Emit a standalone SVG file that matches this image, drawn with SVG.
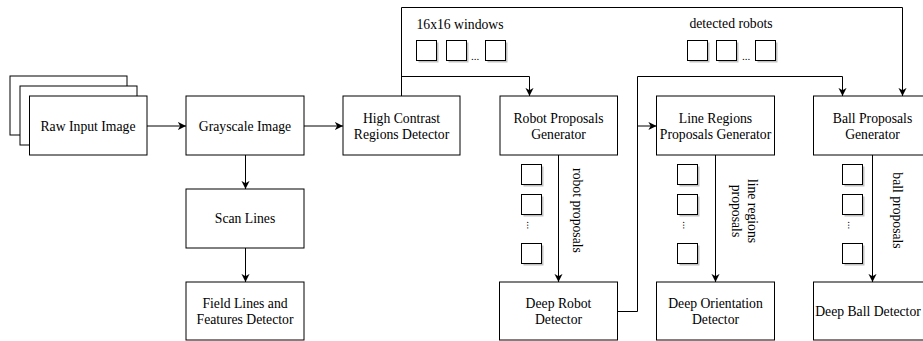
<svg xmlns="http://www.w3.org/2000/svg" width="923" height="341" viewBox="0 0 923 341">
<defs>
<style>
.box{fill:#fff;stroke:#000;stroke-width:1}
.t{font-family:"Liberation Serif","Times New Roman",serif;font-size:13.7px;fill:#000;text-anchor:middle}
.c{fill:none;stroke:#000;stroke-width:1}
.sq{fill:#fff;stroke:#000;stroke-width:1}
.sh{fill:#999;stroke:none;opacity:0.6}
.dots{font-family:"Liberation Serif",serif;font-size:11px;fill:#000;text-anchor:middle}
</style>
<marker id="arr" viewBox="0 0 10 10" refX="9" refY="5" markerWidth="9" markerHeight="9" markerUnits="userSpaceOnUse" orient="auto">
<path d="M0,0.5 L9,5 L0,9.5 L2.5,5 z" fill="#000"/>
</marker>
<g id="sqv">
<rect class="sh" x="2" y="2" width="20" height="20"/>
<rect class="sq" x="0" y="0" width="20" height="20"/>
</g>
</defs>

<g id="connectors">
<path class="c" d="M147 126 H186" marker-end="url(#arr)"/>
<path class="c" d="M304 126 H343" marker-end="url(#arr)"/>
<path class="c" d="M245.5 155 V189" marker-end="url(#arr)"/>
<path class="c" d="M245.5 248 V282" marker-end="url(#arr)"/>
<path class="c" d="M401.5 96 V7.5 H902.5 V96" marker-end="url(#arr)"/>
<path class="c" d="M401.5 76.5 H529.5 V96" marker-end="url(#arr)"/>
<path class="c" d="M558.5 155 V282" marker-end="url(#arr)"/>
<path class="c" d="M715.5 155 V282" marker-end="url(#arr)"/>
<path class="c" d="M872.5 155 V282" marker-end="url(#arr)"/>
<path class="c" d="M617.5 311.5 H637.5 V76.5 H842.5 V96" marker-end="url(#arr)"/>
<path class="c" d="M637.5 126 H656.5" marker-end="url(#arr)"/>
</g>

<g id="raw-input-image">
<rect class="box" x="10" y="76" width="117" height="59"/>
<rect class="box" x="20" y="86" width="117" height="59"/>
<rect class="box" x="29.5" y="96" width="117.5" height="59"/>
<text class="t" x="88" y="130.5">Raw Input Image</text>
</g>

<g id="grayscale-image">
<rect class="box" x="186" y="96" width="118" height="59"/>
<text class="t" x="245" y="130.5">Grayscale Image</text>
</g>

<g id="high-contrast">
<rect class="box" x="343" y="96" width="117" height="59"/>
<text class="t" x="401.5" y="122.5">High Contrast</text>
<text class="t" x="401.5" y="138.5">Regions Detector</text>
</g>

<g id="robot-proposals">
<rect class="box" x="500" y="96" width="117.5" height="59"/>
<text class="t" x="558.5" y="122.5">Robot Proposals</text>
<text class="t" x="558.5" y="138.5">Generator</text>
</g>

<g id="line-regions">
<rect class="box" x="656.5" y="96" width="118" height="59"/>
<text class="t" x="715.5" y="122.5">Line Regions</text>
<text class="t" x="715.5" y="138.5">Proposals Generator</text>
</g>

<g id="ball-proposals">
<rect class="box" x="813.5" y="96" width="118" height="59"/>
<text class="t" x="872.5" y="122.5">Ball Proposals</text>
<text class="t" x="872.5" y="138.5">Generator</text>
</g>

<g id="scan-lines">
<rect class="box" x="186" y="189" width="118" height="59"/>
<text class="t" x="245" y="223">Scan Lines</text>
</g>

<g id="field-lines">
<rect class="box" x="186" y="282" width="118" height="58"/>
<text class="t" x="245" y="307.5">Field Lines and</text>
<text class="t" x="245" y="323.5">Features Detector</text>
</g>

<g id="deep-robot">
<rect class="box" x="499.5" y="282" width="118" height="58"/>
<text class="t" x="558.5" y="307.5">Deep Robot</text>
<text class="t" x="558.5" y="323.5">Detector</text>
</g>

<g id="deep-orientation">
<rect class="box" x="656.5" y="282" width="118" height="58"/>
<text class="t" x="715.5" y="307.5">Deep Orientation</text>
<text class="t" x="715.5" y="323.5">Detector</text>
</g>

<g id="deep-ball">
<rect class="box" x="813.5" y="282" width="118" height="58"/>
<text class="t" x="868" y="315.5">Deep Ball Detector</text>
</g>

<g id="windows-label">
<text class="t" x="460" y="29">16x16 windows</text>
<use href="#sqv" x="416.5" y="40.5"/>
<use href="#sqv" x="446.5" y="40.5"/>
<text class="dots" x="475" y="60">...</text>
<use href="#sqv" x="485.5" y="40.5"/>
</g>

<g id="detected-robots-label">
<text class="t" x="731" y="28">detected robots</text>
<use href="#sqv" x="687.5" y="40.5"/>
<use href="#sqv" x="716.5" y="40.5"/>
<text class="dots" x="746" y="60">...</text>
<use href="#sqv" x="755.5" y="40.5"/>
</g>

<g id="robot-proposals-label">
<use href="#sqv" x="521.5" y="164.5"/>
<use href="#sqv" x="521.5" y="194.5"/>
<text class="dots" transform="rotate(90 530 225)" x="530" y="228">...</text>
<use href="#sqv" x="521.5" y="243.5"/>
<text class="t" transform="rotate(90 573 210.5)" x="573" y="210.5">robot proposals</text>
</g>

<g id="line-regions-label">
<use href="#sqv" x="677.5" y="164.5"/>
<use href="#sqv" x="677.5" y="194.5"/>
<text class="dots" transform="rotate(90 686 225)" x="686" y="228">...</text>
<use href="#sqv" x="677.5" y="243.5"/>
<text class="t" transform="rotate(90 748 211)" x="748" y="211">line regions</text>
<text class="t" transform="rotate(90 732 211)" x="732" y="211">proposals</text>
</g>

<g id="ball-proposals-label">
<use href="#sqv" x="842.5" y="164.5"/>
<use href="#sqv" x="842.5" y="194.5"/>
<text class="dots" transform="rotate(90 851 225)" x="851" y="228">...</text>
<use href="#sqv" x="842.5" y="243.5"/>
<text class="t" transform="rotate(90 893 210.5)" x="893" y="210.5">ball proposals</text>
</g>
</svg>
